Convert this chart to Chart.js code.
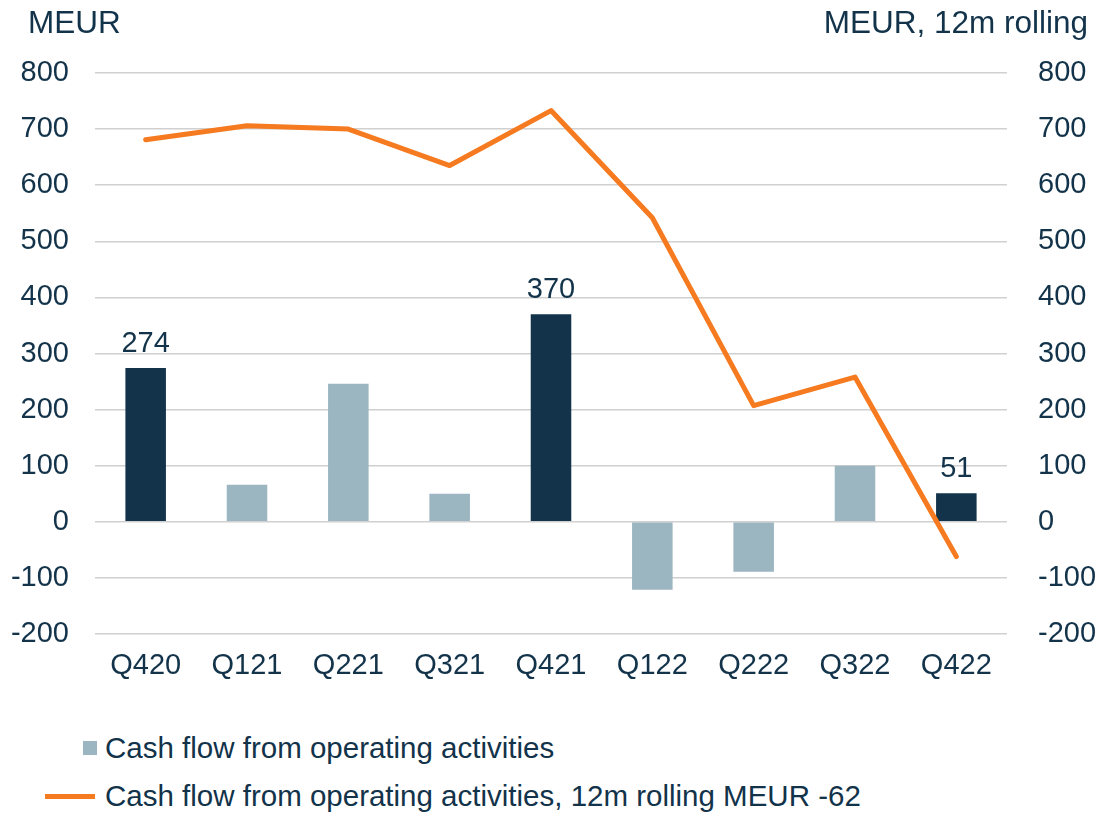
<!DOCTYPE html>
<html>
<head>
<meta charset="utf-8">
<script src="https://cdn.jsdelivr.net/npm/chart.js@4"></script>
<style>
  body { margin: 0; background: #fff; font-family: "Liberation Sans", Arial, sans-serif; color: #12334a; }
  #wrap { position: relative; width: 1096px; height: 813px; }
  #chart { position: absolute; left: 0; top: 0; }
  .head { position: absolute; top: 4px; font-size: 31.5px; }
  .legend { position: absolute; left: 0; font-size: 29.5px; white-space: nowrap; }
  .sw { position: absolute; }
</style>
</head>
<body>
<div id="wrap">
  <canvas id="chart" width="1096" height="700"></canvas>
  <div class="head" style="left:28px;">MEUR</div>
  <div class="head" style="right:8px;">MEUR, 12m rolling</div>
  <div class="legend" style="top:731px;">
    <span class="sw" style="left:83px;top:10px;width:14px;height:14px;background:#9bb5c1;"></span>
    <span style="position:absolute;left:105px;top:0;">Cash flow from operating activities</span>
  </div>
  <div class="legend" style="top:779px;">
    <span class="sw" style="left:45px;top:15px;width:50px;height:5px;background:#f57a20;"></span>
    <span style="position:absolute;left:105px;top:0;">Cash flow from operating activities, 12m rolling MEUR -62</span>
  </div>
</div>
<script>
const quarters = ["Q420", "Q121", "Q221", "Q321", "Q421", "Q122", "Q222", "Q322", "Q422"];
const cashFlow = [274, 66, 246, 50, 370, -121, -89, 100, 51];
const rolling12m = [681, 706, 700, 635, 733, 542, 207, 258, -62];
const shownLabels = [274, null, null, null, 370, null, null, null, 51];
const yTicks = [-200, -100, 0, 100, 200, 300, 400, 500, 600, 700, 800];

const navy = "#12334a";
const light = "#9bb5c1";
const orange = "#f57a20";

// Q4 bars are dark, others light
const barColors = quarters.map(q => q.startsWith("Q4") ? navy : light);

const barLabels = {
  id: "barLabels",
  afterDatasetsDraw(chart) {
    const ctx = chart.ctx;
    const meta = chart.getDatasetMeta(1);
    ctx.save();
    ctx.font = "29px 'Liberation Sans', Arial, sans-serif";
    ctx.fillStyle = navy;
    ctx.textAlign = "center";
    ctx.textBaseline = "alphabetic";
    meta.data.forEach((bar, i) => {
      if (shownLabels[i] === null) return;
      ctx.fillText(String(shownLabels[i]), bar.x, bar.y - 16);
    });
    ctx.restore();
  }
};

const tickFont = { family: "'Liberation Sans', Arial, sans-serif", size: 29 };

new Chart(document.getElementById("chart"), {
  type: "bar",
  data: {
    labels: quarters,
    datasets: [
      {
        type: "line",
        label: "Cash flow from operating activities, 12m rolling",
        data: rolling12m,
        yAxisID: "y1",
        borderColor: orange,
        borderWidth: 5,
        borderCapStyle: "round",
        borderJoinStyle: "round",
        pointRadius: 0,
        tension: 0,
        order: 0
      },
      {
        label: "Cash flow from operating activities",
        data: cashFlow,
        yAxisID: "y",
        backgroundColor: barColors,
        barPercentage: 0.8,
        categoryPercentage: 0.5,
        order: 1
      }
    ]
  },
  options: {
    responsive: false,
    animation: false,
    layout: { padding: { top: 73, bottom: 0, left: 0, right: 0 } },
    plugins: { legend: { display: false }, tooltip: { enabled: false } },
    scales: {
      x: {
        grid: { display: false },
        border: { display: false },
        ticks: { color: navy, font: tickFont, padding: 7, maxRotation: 0 },
        afterFit(scale) { scale.height = 66; }
      },
      y: {
        position: "left",
        min: -200, max: 800,
        afterBuildTicks(scale) { scale.ticks = yTicks.map(v => ({ value: v })); },
        grid: { color: "#d0d0d0", lineWidth: 1.5, drawTicks: false },
        border: { display: false },
        ticks: { color: navy, font: tickFont, padding: 26 },
        afterFit(scale) { scale.width = 95; }
      },
      y1: {
        position: "right",
        min: -200, max: 800,
        afterBuildTicks(scale) { scale.ticks = yTicks.map(v => ({ value: v })); },
        grid: { display: false },
        border: { display: false },
        ticks: { color: navy, font: tickFont, padding: 23 },
        afterFit(scale) { scale.width = 89; }
      }
    }
  },
  plugins: [barLabels]
});
</script>
</body>
</html>
